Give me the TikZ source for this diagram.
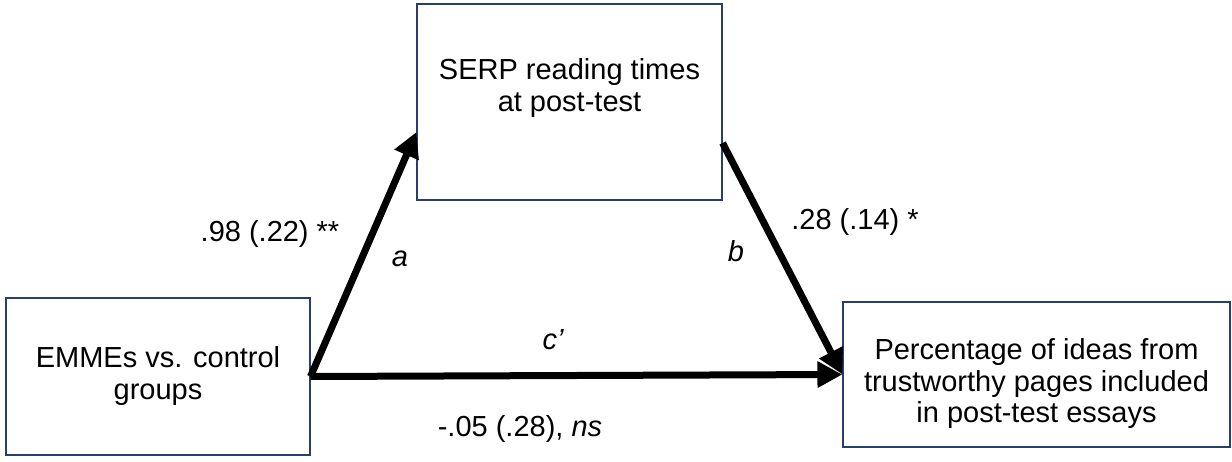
\documentclass[tikz,border=0pt]{standalone}
\usepackage{fontspec}
\setmainfont{Liberation Sans}
\usetikzlibrary{arrows.meta}
\definecolor{boxline}{RGB}{40,62,112}
\begin{document}
\begin{tikzpicture}[x=1pt,y=-1pt,
  box/.style={draw=boxline,line width=1.1pt,rectangle,inner sep=0pt},
  txt/.style={font=\fontsize{29}{31.5}\selectfont,align=center,inner sep=0pt},
  effect/.style={line width=7pt,-{Triangle[length=25pt,width=25pt]}}]
\useasboundingbox (0,0) rectangle (1232,462);

% variables
\node[box,minimum width=304pt,minimum height=157pt] (L) at (158,376.5) {};
\node[box,minimum width=305pt,minimum height=196pt] (T) at (569.5,102) {};
\node[box,minimum width=387pt,minimum height=145pt] (R) at (1036.5,374.5) {};

\node[txt] (Ltext) at (158,376) {EMMEs vs. control\\groups};
\node[txt] (Ttext) at (569.5,88) {SERP reading times\\at post-test};
\node[txt] (Rtext) at (1036.5,384) {Percentage of ideas from\\trustworthy pages included\\in post-test essays};

% paths
\draw[effect] (L.east) -- ([yshift=-30pt]T.west);
\draw[effect] ([yshift=-41pt]T.east) -- (R.west);
\draw[effect] (L.east) -- (R.west);

% coefficients
\node[txt] (acoef) at (270,234) {.98 (.22) **};
\node[txt] (alab) at (400,259) {\itshape a};
\node[txt] (bcoef) at (855,222) {.28 (.14) *};
\node[txt] (blab) at (736,251) {\itshape b};
\node[txt] (clab) at (553,340) {\itshape c’};
\node[txt] (ccoef) at (520,429) {-.05 (.28), \textit{ns}};
\end{tikzpicture}
\end{document}
